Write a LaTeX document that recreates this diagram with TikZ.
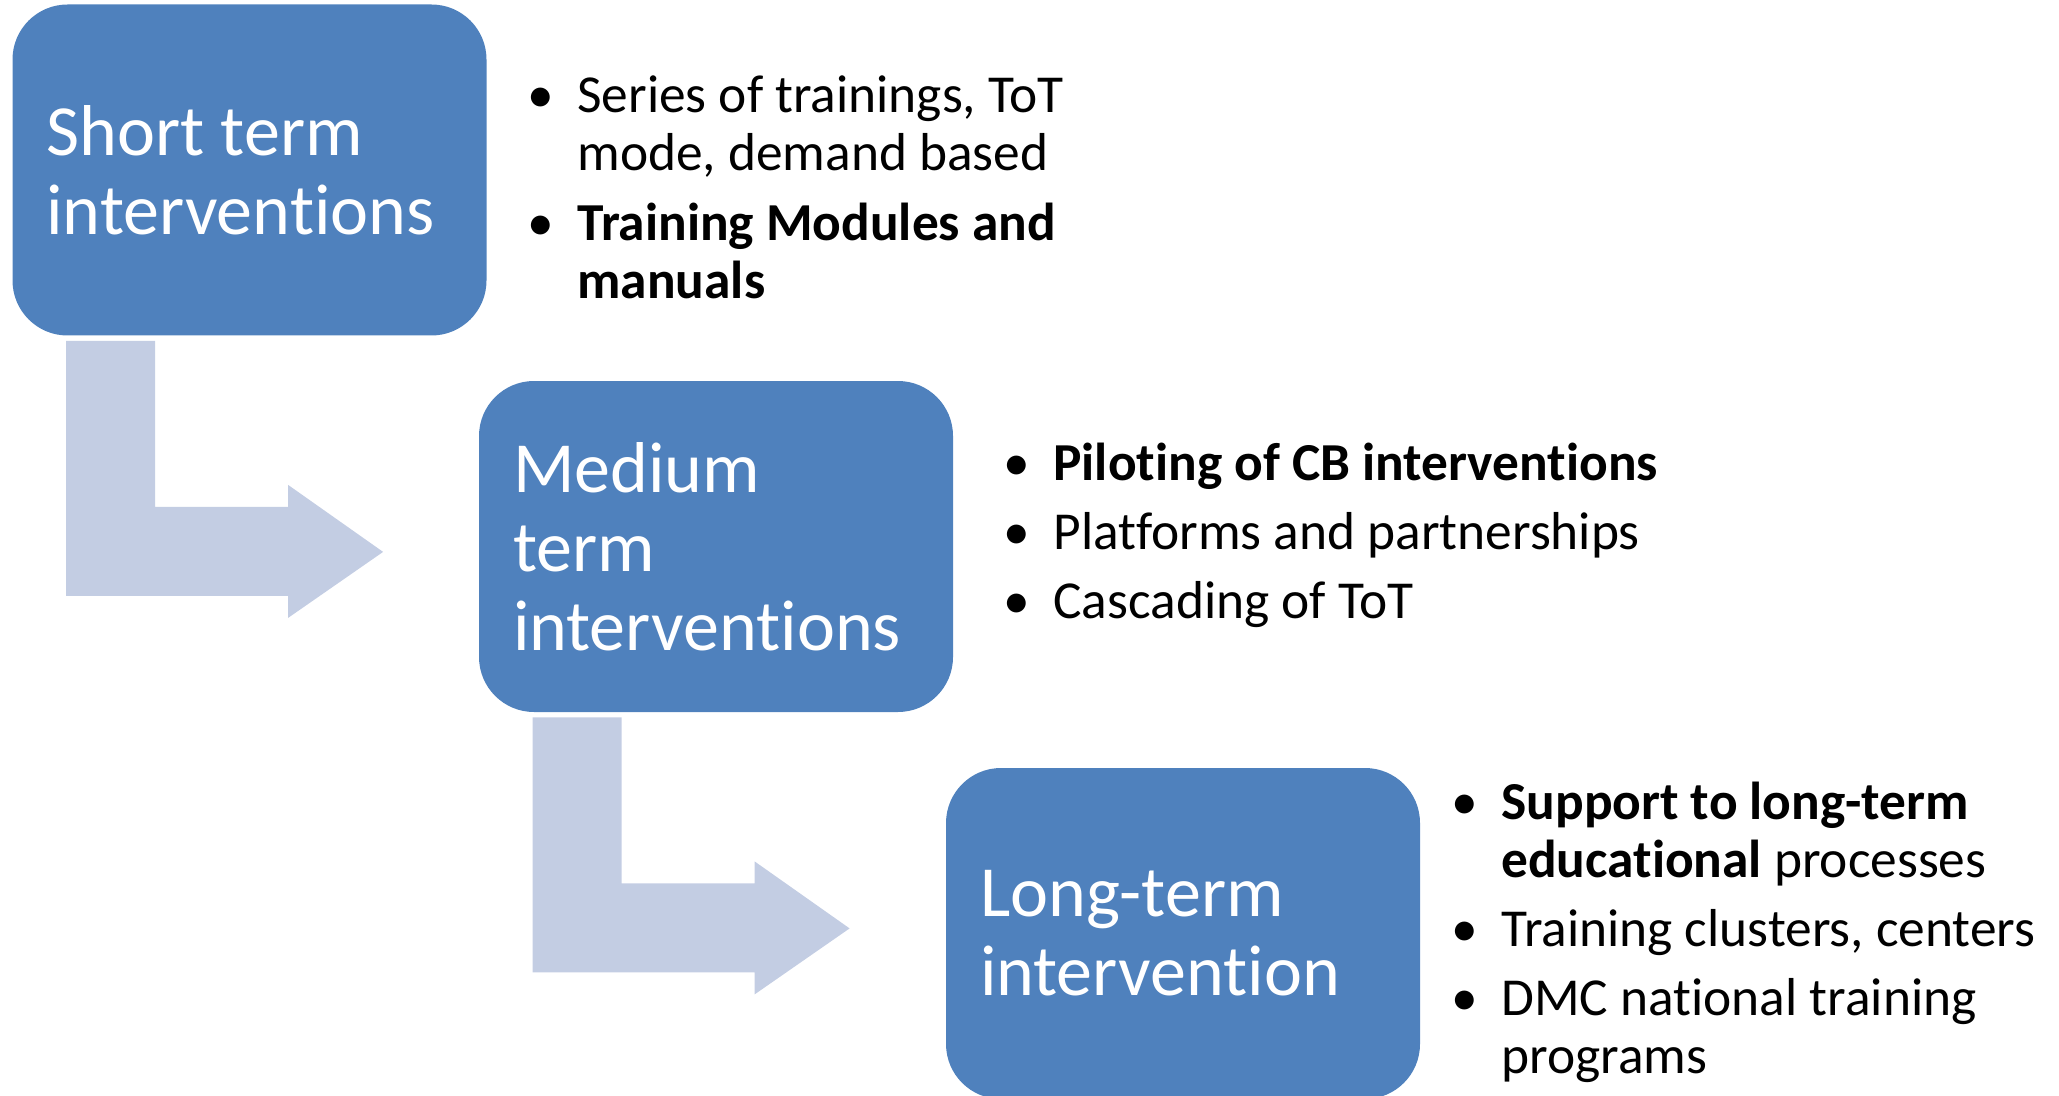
\documentclass[tikz,border=0pt]{standalone}
\usepackage{fontspec}
\setmainfont{Carlito}[Ligatures=NoCommon]
\definecolor{boxblue}{RGB}{79,129,189}
\definecolor{arrowgrey}{RGB}{195,205,227}

\begin{document}
\begin{tikzpicture}
		[
		x=0.5pt, y=-0.5pt,
		phase/.style={rounded corners=27.5pt, fill=boxblue, text=white,
			minimum width=237pt, minimum height=165.5pt, text width=203pt,
			inner xsep=17pt, align=flush left, font=\fontsize{36pt}{39.5pt}\selectfont},
		points/.style={anchor=base west, inner sep=0pt, font=\fontsize{26.7pt}{29pt}\selectfont},
		bendarrow/.pic={
			\fill[arrowgrey] (0,0) -- (89,0) -- (89,166) -- (222,166) -- (222,144)
			-- (317,211) -- (222,277) -- (222,255) -- (0,255) -- cycle;
		}
		]
		\useasboundingbox (0,0) rectangle (2059,1096);
		% the three phases
		\node[phase] (short) at (249.5,170) {Short term\\interventions};
		\node[phase] (medium) at (716,546.5) {Medium\\term\\interventions};
		\node[phase] (long) at (1183,933.5) {Long-term\\intervention};
		% bent arrows between them
		\path (short.south west) ++(54,5) pic {bendarrow};
		\path (medium.south west) ++(54,5) pic {bendarrow};
		% bullet lists
		\node[points] (shortlist) at (527,112.5) {\begin{tabular}[t]{@{}p{25pt}@{}l@{}}
				\textbullet & Series of trainings, ToT\\
				& mode, demand based\\[6pt]
				\textbullet & \textbf{Training Modules and}\\
				& \textbf{manuals}
			\end{tabular}};
		\node[points] (mediumlist) at (1003,480.5) {\begin{tabular}[t]{@{}p{25pt}@{}l@{}}
				\textbullet & \textbf{Piloting of CB interventions}\\[5.5pt]
				\textbullet & Platforms and partnerships\\[5.5pt]
				\textbullet & Cascading of ToT
			\end{tabular}};
		\node[points] (longlist) at (1451,819.5) {\begin{tabular}[t]{@{}p{25pt}@{}l@{}}
				\textbullet & \textbf{Support to long-term}\\
				& \textbf{educational} processes\\[5.5pt]
				\textbullet & Training clusters, centers\\[5.5pt]
				\textbullet & DMC national training\\
				& programs
			\end{tabular}};
\end{tikzpicture}
\end{document}
